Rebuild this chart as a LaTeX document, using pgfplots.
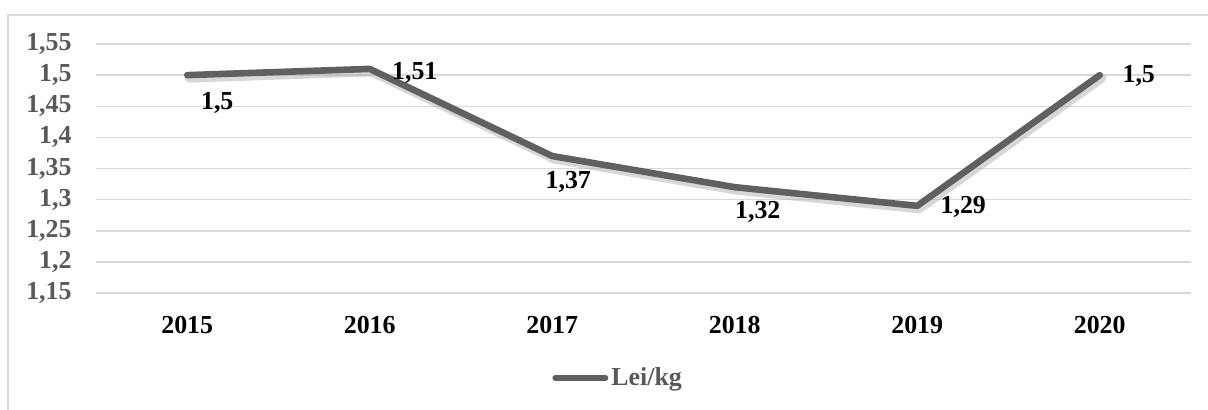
\documentclass[border=0pt]{standalone}
\usepackage{fontspec}
\setmainfont{Liberation Serif}
\usepackage{pgfplots}
\usepackage{pgfplotstable}
\pgfplotsset{compat=1.18}
\definecolor{gridc}{HTML}{D9D9D9}
\definecolor{linec}{HTML}{606060}
\definecolor{txtc}{HTML}{595959}
\pgfplotstableread{
x y lab dx dy
0 1.50 1,5 15 -14
1 1.51 1,51 22.5 -2
2 1.37 1,37 8 -13
3 1.32 1,32 11.5 -12.5
4 1.29 1,29 23 -0.5
5 1.50 1,5 19.5 -0.5
}\datatable
\begin{document}
\begin{tikzpicture}
\begin{axis}[
  scale only axis, width=547.5bp, height=124.5bp,
  xmin=-0.5, xmax=5.5, ymin=1.15, ymax=1.55,
  xtick={0,1,2,3,4,5}, xticklabels={2015,2016,2017,2018,2019,2020},
  ytick={1.15,1.2,1.25,1.3,1.35,1.4,1.45,1.5,1.55},
  yticklabels={{1,15},{1,2},{1,25},{1,3},{1,35},{1,4},{1,45},{1,5},{1,55}},
  ymajorgrids, grid style={gridc, line width=0.75bp},
  axis line style={draw=none}, major tick length=0pt,
  tick label style={font=\fontsize{13}{15}\selectfont\bfseries},
  yticklabel style={anchor=east, inner sep=0pt, xshift=-12bp, text=txtc},
  xticklabel style={anchor=base, inner sep=0pt, yshift=-20bp, text=black},
  clip=false,
  legend style={at={(axis description cs:0.4164,-0.3414)}, anchor=west, draw=none, fill=none,
    inner sep=0pt, font=\fontsize{13}{15}\selectfont\bfseries, text=txtc,
    nodes={inner sep=1.5bp}},
  legend image code/.code={\draw[#1] (0bp,0bp) -- (25bp,0bp);},
]
\addplot[black!35, opacity=0.45, line width=4.5bp, line cap=round, line join=round,
  xshift=1bp, yshift=-1.5bp, forget plot] table[x=x,y=y]{\datatable};
\addplot[linec, line width=3.3bp, line cap=round, line join=round, forget plot,
  nodes near coords, point meta=explicit symbolic,
  visualization depends on={\thisrow{dx}\as\dx},
  visualization depends on={\thisrow{dy}\as\dy},
  nodes near coords style={anchor=center, inner sep=0pt, xshift=\dx*1bp, yshift=\dy*1bp,
    text=black, font=\fontsize{13}{15}\selectfont\bfseries}]
  table[x=x,y=y,meta=lab]{\datatable};
\addlegendimage{linec, line width=3bp, line cap=round}
\addlegendentry{Lei/kg}
\end{axis}
\pgfresetboundingbox
\useasboundingbox (-48bp,-58.5bp) rectangle (556bp,146.5bp);
\draw[gridc, line width=0.75bp] (-44bp,-60bp) -- (-44bp,139bp) -- (560bp,139bp);
\end{tikzpicture}
\end{document}
